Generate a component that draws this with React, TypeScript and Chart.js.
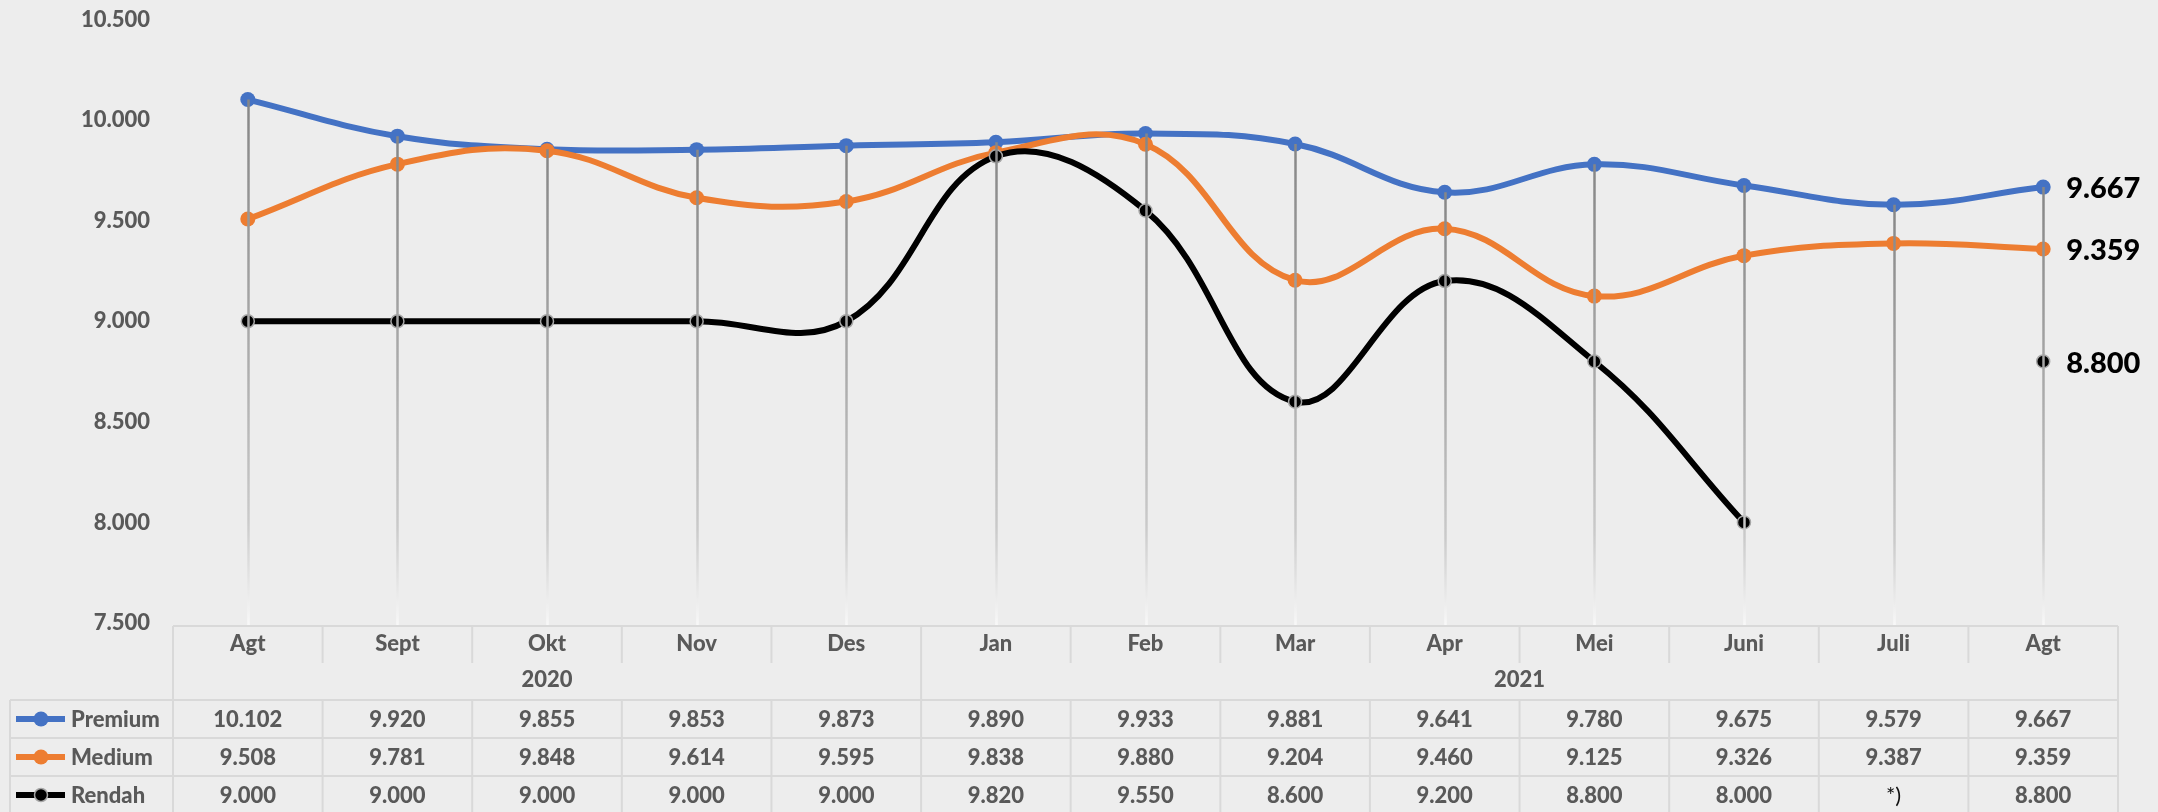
import React, { useEffect, useRef } from "react";
import { Chart, registerables } from "chart.js";

Chart.register(...registerables);

// ---- Data ----
const months = ["Agt", "Sept", "Okt", "Nov", "Des", "Jan", "Feb", "Mar", "Apr", "Mei", "Juni", "Juli", "Agt"];
const yearLabels = ["2020", "2021"];
const yearSpans = [5, 8];
const seriesNames = ["Premium", "Medium", "Rendah"];
const premium = [10102, 9920, 9855, 9853, 9873, 9890, 9933, 9881, 9641, 9780, 9675, 9579, 9667];
const medium = [9508, 9781, 9848, 9614, 9595, 9838, 9880, 9204, 9460, 9125, 9326, 9387, 9359];
const rendah: (number | null)[] = [9000, 9000, 9000, 9000, 9000, 9820, 9550, 8600, 9200, 8800, 8000, null, 8800];
const missingLabel = "*)";
const yMin = 7500;
const yMax = 10500;
const yStep = 500;

const BG = "#EDEDED";
const TEXT = "#595959";
const GRID = "#D9D9D9";
const FONT = "Lato, 'Open Sans', sans-serif";
const WEIGHT = "900";
const colors = ["#4472C4", "#ED7D31", "#000000"];

const fmt = (v: number | null) => (v == null ? missingLabel : (v / 1000).toFixed(3));

const dropLinesPlugin = {
  id: "dropLines",
  afterDatasetsDraw(chart: any) {
    const { ctx, chartArea } = chart;
    const xs = chart.scales.x;
    const n = months.length;
    ctx.save();
    for (let i = 0; i < n; i++) {
      let topY = Infinity;
      chart.data.datasets.forEach((ds: any, di: number) => {
        const v = ds.data[i];
        if (v == null) return;
        const el = chart.getDatasetMeta(di).data[i];
        if (el && el.y < topY) topY = el.y;
      });
      if (!isFinite(topY)) continue;
      const x = Math.round(xs.getPixelForValue(i)) + 0.5;
      const bottom = chartArea.bottom + 2;
      const g = ctx.createLinearGradient(0, topY, 0, bottom);
      g.addColorStop(0, "#868686");
      g.addColorStop(0.5, "#ADADAD");
      g.addColorStop(0.8, "#CACACA");
      g.addColorStop(1, "#F8F8F8");
      ctx.strokeStyle = g;
      ctx.lineWidth = 2.5;
      ctx.beginPath();
      ctx.moveTo(x, topY);
      ctx.lineTo(x, bottom);
      ctx.stroke();
    }
    ctx.restore();
  },
};

const tablePlugin = {
  id: "dataTable",
  afterDraw(chart: any) {
    const { ctx, chartArea } = chart;
    const xs = chart.scales.x;
    const n = months.length;
    const c0 = xs.getPixelForValue(0);
    const c1 = xs.getPixelForValue(1);
    const w = c1 - c0;
    const left = c0 - w / 2;
    const right = xs.getPixelForValue(n - 1) + w / 2;
    const tableTop = chartArea.bottom + 3;
    const catBottom = tableTop + 37;
    const rowTops = [tableTop + 74, tableTop + 112, tableTop + 150];
    const rowH = 38;
    const tableBottom = rowTops[2] + rowH;
    const legendLeft = 10;

    ctx.save();
    ctx.strokeStyle = GRID;
    ctx.lineWidth = 2;
    const line = (x1: number, y1: number, x2: number, y2: number) => {
      ctx.beginPath();
      ctx.moveTo(x1, y1);
      ctx.lineTo(x2, y2);
      ctx.stroke();
    };
    line(left, tableTop, right, tableTop);
    rowTops.forEach((y) => line(legendLeft, y, right, y));
    line(legendLeft, tableBottom, right, tableBottom);
    line(left, tableTop, left, tableBottom);
    line(right, tableTop, right, tableBottom);
    line(legendLeft, rowTops[0], legendLeft, tableBottom);
    let cum = 0;
    const yearBounds: number[] = [];
    yearSpans.forEach((s) => {
      cum += s;
      yearBounds.push(cum);
    });
    for (let i = 1; i < n; i++) {
      const bx = left + i * w;
      if (yearBounds.includes(i)) {
        line(bx, tableTop, bx, tableBottom);
      } else {
        line(bx, tableTop, bx, catBottom);
        line(bx, rowTops[0], bx, tableBottom);
      }
    }

    ctx.textAlign = "center";
    ctx.textBaseline = "middle";
    ctx.fillStyle = TEXT;
    ctx.font = `${WEIGHT} 22px ${FONT}`;
    months.forEach((m, i) => {
      ctx.fillText(m, xs.getPixelForValue(i), tableTop + 18);
    });
    let start = 0;
    yearLabels.forEach((y, k) => {
      const end = start + yearSpans[k] - 1;
      const cx = (xs.getPixelForValue(start) + xs.getPixelForValue(end)) / 2;
      ctx.fillText(y, cx, tableTop + 54);
      start = end + 1;
    });

    const all = [premium, medium, rendah];
    all.forEach((arr, r) => {
      const cy = rowTops[r] + rowH / 2;
      arr.forEach((v, i) => {
        if (v == null) {
          ctx.fillStyle = "#111111";
          ctx.font = `22px ${FONT}`;
        } else {
          ctx.fillStyle = TEXT;
          ctx.font = `${WEIGHT} 22px ${FONT}`;
        }
        ctx.fillText(fmt(v as any), xs.getPixelForValue(i), cy + 1);
      });
      // legend key
      ctx.strokeStyle = colors[r];
      ctx.lineWidth = 6;
      line(16, cy, 65, cy);
      ctx.beginPath();
      if (r === 2) {
        ctx.arc(41, cy, 6.5, 0, Math.PI * 2);
        ctx.fillStyle = "#000";
        ctx.fill();
        ctx.lineWidth = 1.5;
        ctx.strokeStyle = "#A6A6A6";
        ctx.stroke();
      } else {
        ctx.arc(41, cy, 7.5, 0, Math.PI * 2);
        ctx.fillStyle = colors[r];
        ctx.fill();
      }
      ctx.textAlign = "left";
      ctx.fillStyle = TEXT;
      ctx.font = `${WEIGHT} 22px ${FONT}`;
      ctx.fillText(seriesNames[r], 71, cy + 1);
      ctx.textAlign = "center";
      ctx.strokeStyle = GRID;
      ctx.lineWidth = 2;
    });

    // value labels at last point
    ctx.textAlign = "left";
    ctx.textBaseline = "middle";
    ctx.fillStyle = "#000";
    ctx.font = `${WEIGHT} 29px ${FONT}`;
    chart.data.datasets.forEach((ds: any, di: number) => {
      const last = ds.data.length - 1;
      const v = ds.data[last];
      if (v == null) return;
      const el = chart.getDatasetMeta(di).data[last];
      ctx.fillText(fmt(v), el.x + 23, el.y + 2);
    });
    ctx.restore();
  },
};

export default function App() {
  const ref = useRef<HTMLCanvasElement | null>(null);
  useEffect(() => {
    if (!ref.current) return;
    const chart = new Chart(ref.current, {
      type: "line",
      data: {
        labels: months,
        datasets: [
          {
            label: seriesNames[0],
            data: premium,
            borderColor: colors[0],
            backgroundColor: colors[0],
            pointBackgroundColor: colors[0],
            pointBorderWidth: 0,
            pointRadius: 7.5,
            borderWidth: 6,
            tension: 0.4,
            order: 3,
          },
          {
            label: seriesNames[1],
            data: medium,
            borderColor: colors[1],
            backgroundColor: colors[1],
            pointBackgroundColor: colors[1],
            pointBorderWidth: 0,
            pointRadius: 7.5,
            borderWidth: 6,
            tension: 0.4,
            order: 2,
          },
          {
            label: seriesNames[2],
            data: rendah,
            borderColor: colors[2],
            backgroundColor: colors[2],
            pointBackgroundColor: "#000000",
            pointBorderColor: "#A6A6A6",
            pointBorderWidth: 1.5,
            pointRadius: 6.5,
            borderWidth: 6,
            tension: 0.4,
            spanGaps: false,
            order: 1,
          },
        ],
      },
      options: {
        responsive: false,
        animation: false,
        layout: { padding: { left: 0, right: 40, top: 19.5, bottom: 189 } },
        plugins: { legend: { display: false }, tooltip: { enabled: false } },
        scales: {
          x: {
            type: "category",
            offset: true,
            display: false,
          },
          y: {
            min: yMin,
            max: yMax,
            afterFit: (s: any) => {
              s.width = 173;
              s.paddingTop = 0;
              s.paddingBottom = 0;
            },
            ticks: {
              stepSize: yStep,
              padding: 23,
              color: TEXT,
              font: { family: FONT, size: 22, weight: WEIGHT },
              callback: (v: any) => fmt(Number(v)),
            },
            grid: { display: false, drawTicks: false },
            border: { display: false },
          },
        },
      } as any,
      plugins: [dropLinesPlugin, tablePlugin],
    });
    return () => chart.destroy();
  }, []);
  return (
    <div style={{ position: "absolute", left: 0, top: 0, width: 2158, height: 812, background: BG }}>
      <canvas ref={ref} width={2158} height={812} style={{ display: "block" }} />
    </div>
  );
}
